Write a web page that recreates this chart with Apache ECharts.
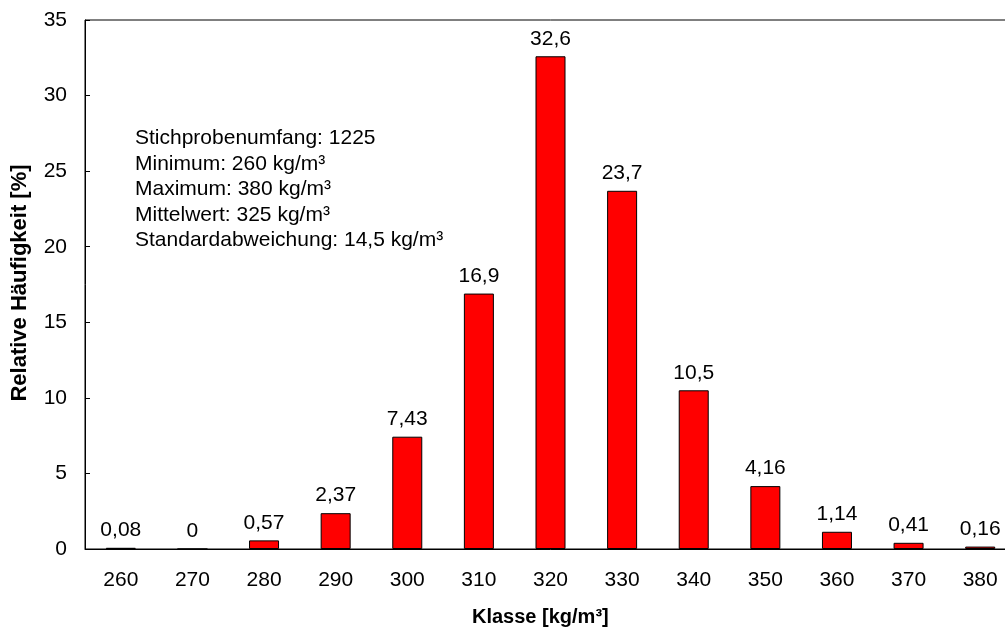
<!DOCTYPE html>
<html>
<head>
<meta charset="utf-8">
<script src="https://cdn.jsdelivr.net/npm/echarts@6/dist/echarts.min.js"></script>
<style>
  html, body { margin: 0; padding: 0; background: #fff; overflow: hidden; }
  /* the plot runs slightly past the right edge of the window */
  #chart { width: 1016px; height: 628px; }
</style>
</head>
<body>
<div id="chart"></div>
<script>
// Density classes (kg/m³) and relative frequencies (%)
const classes = ['260', '270', '280', '290', '300', '310', '320', '330', '340', '350', '360', '370', '380'];
const frequencies = [0.08, 0, 0.57, 2.37, 7.43, 16.9, 32.6, 23.7, 10.5, 4.16, 1.14, 0.41, 0.16];
const statsLines = [
  'Stichprobenumfang: 1225',
  'Minimum: 260 kg/m³',
  'Maximum: 380 kg/m³',
  'Mittelwert: 325 kg/m³',
  'Standardabweichung: 14,5 kg/m³'
];
const yAxisTitle = 'Relative Häufigkeit [%]';
const xAxisTitle = 'Klasse [kg/m³]';

const fontFamily = 'Liberation Sans, Arial, sans-serif';
const chart = echarts.init(document.getElementById('chart'));

chart.setOption({
  animation: false,
  backgroundColor: '#ffffff',
  grid: {
    left: 85, right: 0, top: 20, bottom: 79,
    show: true, borderColor: '#000', borderWidth: 1
  },
  xAxis: {
    type: 'category',
    data: classes,
    boundaryGap: true,
    axisLine: { lineStyle: { color: '#000', width: 1 } },
    axisTick: { inside: true, length: 5, lineStyle: { color: '#000' } },
    axisLabel: { color: '#000', fontSize: 21, fontFamily: fontFamily, margin: 21 }
  },
  yAxis: {
    type: 'value',
    min: 0, max: 35, interval: 5,
    splitLine: { show: false },
    axisLine: { show: true, lineStyle: { color: '#000', width: 1 } },
    axisTick: { show: true, inside: true, length: 5, lineStyle: { color: '#000' } },
    axisLabel: { color: '#000', fontSize: 21, fontFamily: fontFamily, margin: 18 }
  },
  series: [{
    type: 'bar',
    data: frequencies,
    barWidth: 30,
    itemStyle: { color: '#ff0000', borderColor: '#000', borderWidth: 1 },
    label: {
      show: true,
      position: 'top',
      distance: 7,
      color: '#000',
      fontSize: 21,
      fontFamily: fontFamily,
      formatter: p => String(p.value).replace('.', ',')
    }
  }],
  graphic: [
    {
      type: 'text',
      left: 135, top: 126,
      style: {
        text: statsLines.join('\n'),
        fontSize: 21,
        lineHeight: 25.4,
        fontFamily: fontFamily,
        fill: '#000'
      }
    },
    {
      type: 'text',
      x: 20, y: 283,
      rotation: Math.PI / 2,
      style: {
        text: yAxisTitle,
        fontSize: 22,
        fontWeight: 'bold',
        fontFamily: fontFamily,
        fill: '#000',
        align: 'center',
        verticalAlign: 'middle'
      }
    },
    {
      type: 'text',
      x: 472, y: 617,
      style: {
        text: xAxisTitle,
        fontSize: 20,
        fontWeight: 'bold',
        fontFamily: fontFamily,
        fill: '#000',
        align: 'left',
        verticalAlign: 'middle'
      }
    }
  ]
});
</script>
</body>
</html>
